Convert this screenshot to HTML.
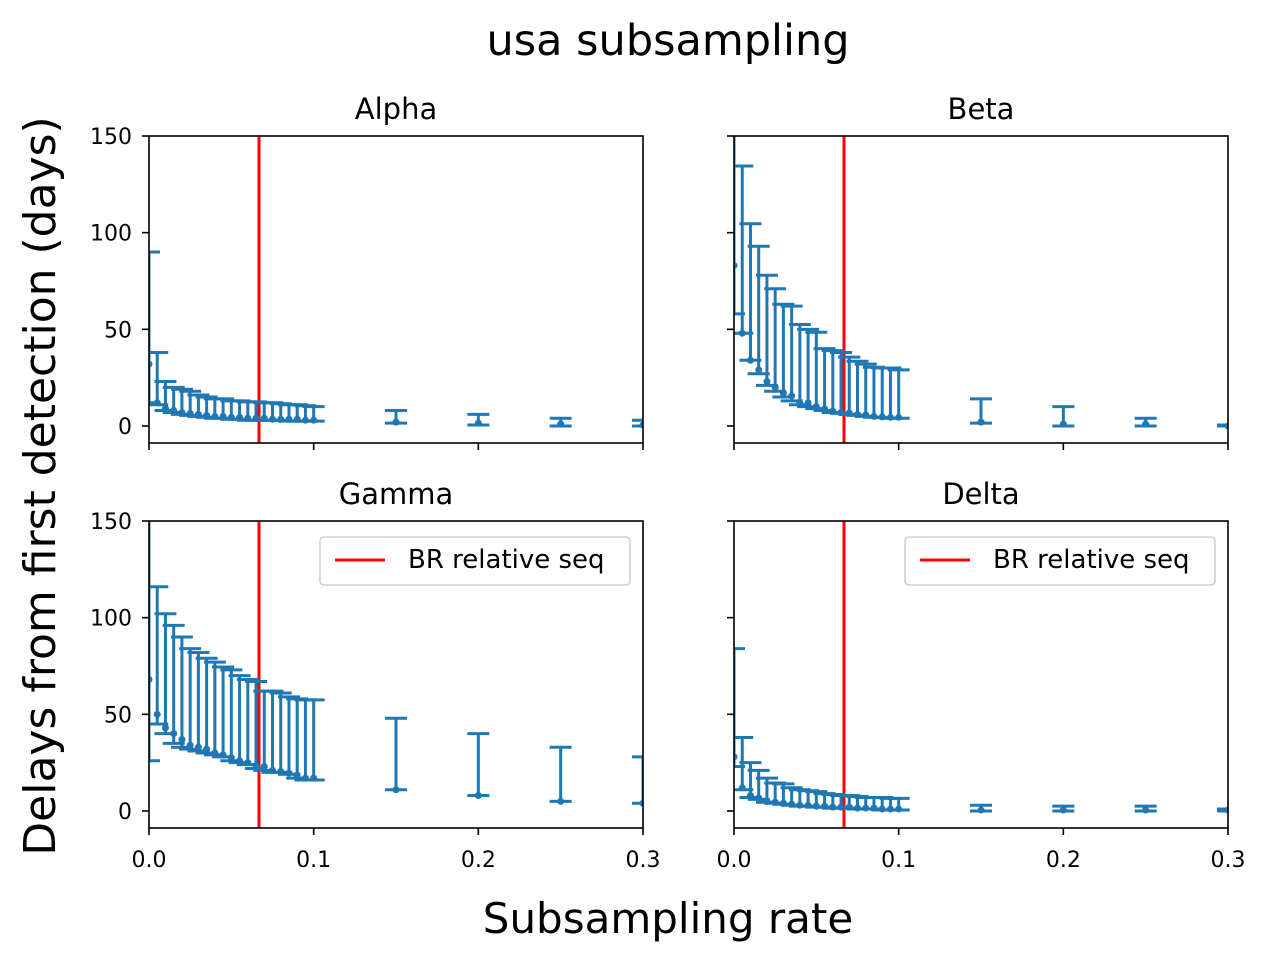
<!DOCTYPE html>
<html><head><meta charset="utf-8"><style>
body{margin:0;background:#fff}
svg text{font-family:"DejaVu Sans","Liberation Sans",sans-serif}
</style></head><body>
<svg id="fig" width="1270" height="962" xmlns="http://www.w3.org/2000/svg">
<text x="668" y="55" font-size="43" text-anchor="middle">usa subsampling</text>
<text x="668" y="933" font-size="42" text-anchor="middle">Subsampling rate</text>
<text transform="translate(55,486) rotate(-90)" font-size="44" text-anchor="middle">Delays from first detection (days)</text>
</svg>
<script>
const xs=[0,0.005,0.01,0.015,0.02,0.025,0.03,0.035,0.04,0.045,0.05,0.055,0.06,0.065,0.07,0.075,0.08,0.085,0.09,0.095,0.1,0.15,0.2,0.25,0.3];
const alphaMed=[32,12,9,8,7,6.5,6,5.5,5,5,4.5,4.5,4,4,4,3.5,3.5,3.5,3.5,3,3,2,1.5,1,0.5];
const alphaUp=[90,38,23,20,19,18,16,15,14,14,13,13,12.5,12.5,12,12,11.5,11,11,10.5,10,8,6,4,3];
const alphaLo=[12,11,8,7,6,5.5,5,4.5,4,4,3.5,3.5,3,3,3,3,3,2.5,2.5,2.5,2.5,1.5,0.5,0,0];
const betaMed=[83,48,34,29,23,20,17,15.6,12,12,10,8.8,7.7,7,6.7,6,5.7,5,4.7,4.5,4.5,2,1,1,0];
const betaUp=[190,134.5,104.6,93,78,71,63,62,52.5,50,48.5,40,39,38,35.6,33.5,32,30.4,30,30,29,14,10,4,0.5];
const betaLo=[58,48,34,27,21,18,15,13,11,10,9,8,7,6.5,6,5.5,5,4.5,4.3,4,4,1.5,0,0,0];
const gammaMed=[68,50,43,40,37,34,33,32,30,29,27.6,26,25,23.5,23,21,20.5,19.6,18.6,17,17,11,8,5,4];
const gammaUp=[190,116,102,96,90,84,82,79,77,74.5,73,70,68,67,62,62,61,59,58,57.5,57.5,48,40,33,28];
const gammaLo=[26,45,40,35,33,32,31,30,29,28,26,25,24,22,21,20,20,19,17,16,16,11,8,5,4];
const deltaMed=[28,12,8,6.7,5,4.6,4,3.5,3,3,2.5,2.5,2,2,2,1.5,1.5,1.5,1,1,1,0.5,0.5,0.5,0.5];
const deltaUp=[84,38,25,21,17,14.5,14,12,11,10.5,10,9,8.5,8,8,7.5,7,7,7,6.5,6.5,3,2.5,2.5,1];
const deltaLo=[23,11,7,6,4.5,4,3.5,3,2.5,2.5,2,2,1.5,1.5,1.5,1,1,1,0.5,0.5,0.5,0,0,0,0];
const yTicks=[0,50,100,150];
const xTicks=[0,0.1,0.2,0.3];
const xTickLabels=["0.0","0.1","0.2","0.3"];
const refRate=0.0668;
const panels=[
 {name:"alpha",title:"Alpha",x0:149,y0:136,med:alphaMed,up:alphaUp,lo:alphaLo,ylab:true,xlab:false,leg:false},
 {name:"beta",title:"Beta",x0:734,y0:136,med:betaMed,up:betaUp,lo:betaLo,ylab:false,xlab:false,leg:false},
 {name:"gamma",title:"Gamma",x0:149,y0:521,med:gammaMed,up:gammaUp,lo:gammaLo,ylab:true,xlab:true,leg:true},
 {name:"delta",title:"Delta",x0:734,y0:521,med:deltaMed,up:deltaUp,lo:deltaLo,ylab:false,xlab:true,leg:true}];
const NS="http://www.w3.org/2000/svg";
const svg=document.getElementById('fig');
function mk(tag,attrs,parent){const e=document.createElementNS(NS,tag);for(const k in attrs)e.setAttribute(k,attrs[k]);(parent||svg).appendChild(e);return e;}
const W=494,H=307,ymin=-8.8,ymax=150,xmin=0,xmax=0.3;
panels.forEach(p=>{
 const g=mk('g',{});
 
 
 const sx=v=>p.x0+(v-xmin)/(xmax-xmin)*W;
 const sy=v=>p.y0+H-(v-ymin)/(ymax-ymin)*H;
 const clipId='c'+p.name;
 const cp=mk('clipPath',{id:clipId},g);mk('rect',{x:p.x0,y:p.y0,width:W,height:H},cp);
 const t=mk('text',{x:p.x0+W/2,y:p.y0-17,'font-size':29,'text-anchor':'middle'},g);t.textContent=p.title;
 
 
 const data=mk('g',{'clip-path':'url(#'+clipId+')'},g);
 const rl=mk('line',{x1:sx(refRate),x2:sx(refRate),y1:p.y0,y2:p.y0+H,stroke:'#ff0000','stroke-width':3},data);
 
 
 xs.forEach((x,i)=>{
  const eb=mk('g',{stroke:'#1f77b4','stroke-width':3,fill:'#1f77b4'},data);
  
  
  const X=sx(x);
  mk('line',{x1:X,x2:X,y1:sy(p.lo[i]),y2:sy(p.up[i])},eb);
  mk('line',{x1:X-11,x2:X+11,y1:sy(p.lo[i]),y2:sy(p.lo[i])},eb);
  mk('line',{x1:X-11,x2:X+11,y1:sy(p.up[i]),y2:sy(p.up[i])},eb);
  mk('circle',{cx:X,cy:sy(p.med[i]),r:3.5,stroke:'none'},eb);
 });
 const fr=mk('rect',{x:p.x0,y:p.y0,width:W,height:H,fill:'none',stroke:'#000','stroke-width':1.6},g);
 
 
 yTicks.forEach(v=>{
  mk('line',{x1:p.x0-7,x2:p.x0,y1:sy(v),y2:sy(v),stroke:'#000','stroke-width':1.6},g);
  if(p.ylab){const l=mk('text',{x:p.x0-17,y:sy(v)+8,'font-size':22,'text-anchor':'end'},g);l.textContent=v;
   
   }
 });
 xTicks.forEach((v,i)=>{
  mk('line',{x1:sx(v),x2:sx(v),y1:p.y0+H,y2:p.y0+H+7,stroke:'#000','stroke-width':1.6},g);
  if(p.xlab){const l=mk('text',{x:sx(v),y:p.y0+H+39,'font-size':22,'text-anchor':'middle'},g);l.textContent=xTickLabels[i];
   
   }
 });
 if(p.leg){
  const lg=mk('g',{},g);
  
  
  mk('rect',{x:p.x0+171,y:p.y0+16,width:310,height:48,rx:4,fill:'#fff',stroke:'#d0d0d0','stroke-width':1.6},lg);
  mk('line',{x1:p.x0+186,x2:p.x0+236,y1:p.y0+39,y2:p.y0+39,stroke:'#ff0000','stroke-width':3},lg);
  const lt=mk('text',{x:p.x0+259,y:p.y0+47,'font-size':26},lg);lt.textContent='BR relative seq';
 }
});
</script>
</body></html>
